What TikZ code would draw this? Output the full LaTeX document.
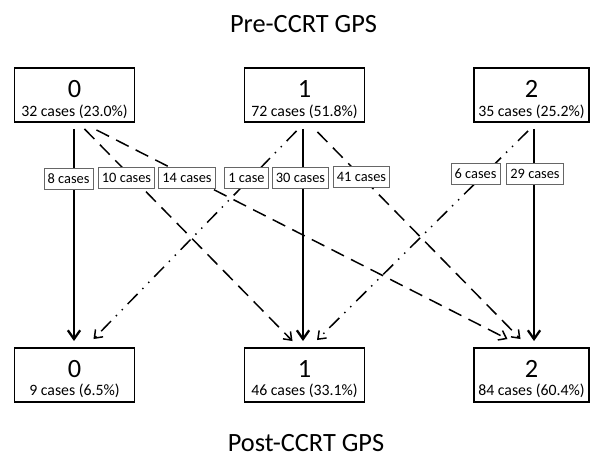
\documentclass[tikz,border=0pt]{standalone}
\usepackage{fontspec}
\setmainfont{Carlito}
\usetikzlibrary{arrows.meta,calc}

\begin{document}
\begin{tikzpicture}[x=0.02cm,y=-0.02cm,
    gpsbox/.style={draw, line width=1.1pt, minimum width=2.4cm, minimum height=1.08cm, inner sep=0pt},
    gpsnum/.style={anchor=base, inner sep=0pt, font=\fontsize{15}{18}\selectfont},
    gpscount/.style={anchor=base, inner sep=0pt, font=\fontsize{9}{11}\selectfont},
    casebox/.style={draw=black!60, line width=0.5pt, fill=white, inner xsep=2pt, inner ysep=0pt, minimum height=0.42cm, font=\fontsize{8.2}{10}\selectfont},
    solidarr/.style={line width=1.3pt, -{Straight Barb[length=5pt,width=7pt]}},
    dasharr/.style={line width=0.85pt, dash pattern=on 8pt off 4.5pt, -{Straight Barb[length=4pt,width=6pt]}},
    dotarr/.style={line width=0.85pt, dash pattern=on 8pt off 4pt on 0.8pt off 4pt on 0.8pt off 4pt, -{Straight Barb[length=4pt,width=6pt]}}]
        \useasboundingbox (0,0) rectangle (590,457);

        % Titles
        \node[anchor=base, font=\fontsize{15}{18}\selectfont] (pretitle) at (303.5,32) {Pre-CCRT GPS};
        \node[anchor=base, font=\fontsize{15}{18}\selectfont] (posttitle) at (306,451) {Post-CCRT GPS};

        % Pre-CCRT boxes
        \node[gpsbox] (pre0) at (74.5,95) {};
        \node[gpsnum] (pre0n) at ($(pre0.center)+(0,2)$) {0};
        \node[gpscount] (pre0c) at ($(pre0.center)+(0,21)$) {32 cases (23.0\%)};
        \node[gpsbox] (pre1) at (304.5,95) {};
        \node[gpsnum] (pre1n) at ($(pre1.center)+(0,2)$) {1};
        \node[gpscount] (pre1c) at ($(pre1.center)+(0,21)$) {72 cases (51.8\%)};
        \node[gpsbox, minimum width=2.3cm] (pre2) at (531.5,95) {};
        \node[gpsnum] (pre2n) at ($(pre2.center)+(0,2)$) {2};
        \node[gpscount] (pre2c) at ($(pre2.center)+(0,21)$) {35 cases (25.2\%)};

        % Post-CCRT boxes
        \node[gpsbox] (post0) at (74.5,375) {};
        \node[gpsnum] (post0n) at ($(post0.center)+(0,2)$) {0};
        \node[gpscount] (post0c) at ($(post0.center)+(0,20)$) {9 cases (6.5\%)};
        \node[gpsbox] (post1) at (304.5,375) {};
        \node[gpsnum] (post1n) at ($(post1.center)+(0,2)$) {1};
        \node[gpscount] (post1c) at ($(post1.center)+(0,20)$) {46 cases (33.1\%)};
        \node[gpsbox, minimum width=2.3cm] (post2) at (531.5,375) {};
        \node[gpsnum] (post2n) at ($(post2.center)+(0,2)$) {2};
        \node[gpscount] (post2c) at ($(post2.center)+(0,20)$) {84 cases (60.4\%)};

        % Transitions
        \draw[solidarr] ($(pre0.south)+(-0.5,6)$) -- ($(post0.north)+(-0.5,-6)$);
        \draw[dasharr] ($(pre0.south)+(10,6)$) -- ($(post1.north)+(-12,-6)$);
        \draw[dasharr] ($(pre0.south)+(22,7)$) -- ($(post2.north)+(-24,-8)$);
        \draw[dotarr] ($(pre1.south)+(-8,8)$) -- ($(post0.north)+(19,-8)$);
        \draw[solidarr] ($(pre1.south)+(-1.5,6)$) -- ($(post1.north)+(-1.5,-6)$);
        \draw[dasharr] ($(pre1.south)+(13,9)$) -- ($(post2.north)+(-11,-8)$);
        \draw[dotarr] ($(pre2.south)+(-3.5,8)$) -- ($(post1.north)+(12.5,-7)$);
        \draw[solidarr] ($(pre2.south)+(2.5,6)$) -- ($(post2.north)+(2.5,-6)$);

        % Case counts
        \node[casebox] (c00) at (68.5,178.5) {8 cases};
        \node[casebox] (c01) at (126.5,178) {10 cases};
        \node[casebox] (c02) at (187,178) {14 cases};
        \node[casebox] (c10) at (246.5,178) {1 case};
        \node[casebox] (c11) at (300.5,178) {30 cases};
        \node[casebox] (c12) at (361.5,177) {41 cases};
        \node[casebox] (c21) at (475.5,173.5) {6 cases};
        \node[casebox] (c22) at (535,173.5) {29 cases};
    \end{tikzpicture}
\end{document}
